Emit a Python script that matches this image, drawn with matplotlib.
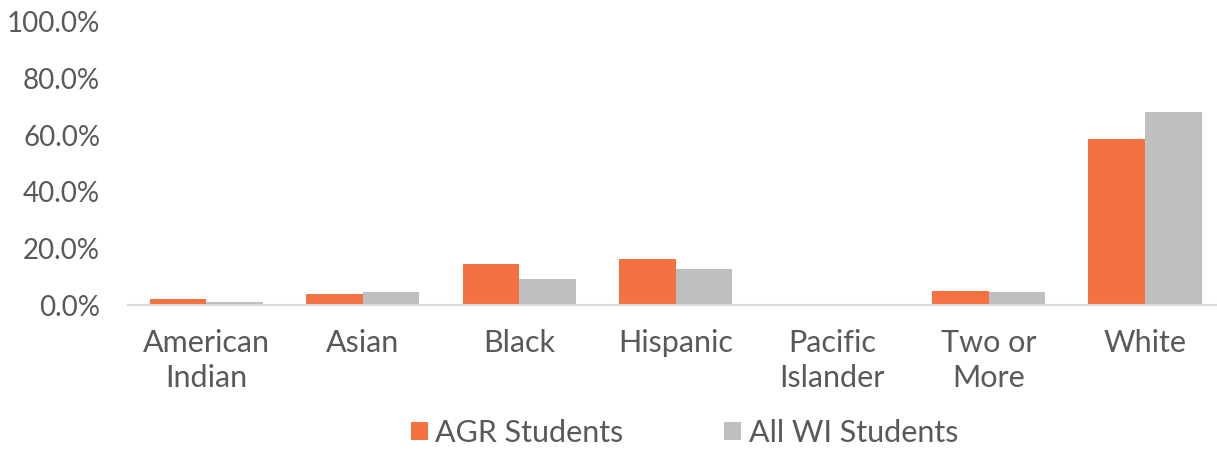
import matplotlib
matplotlib.use("Agg")
import matplotlib.pyplot as plt
from matplotlib.patches import Patch
import numpy as np

categories = ["American\nIndian", "Asian", "Black", "Hispanic", "Pacific\nIslander", "Two or\nMore", "White"]
agr_students = [2.0, 3.8, 14.5, 16.3, 0.0, 5.0, 58.7]
all_wi_students = [1.1, 4.5, 9.1, 12.8, 0.1, 4.7, 68.2]
series_names = ["AGR Students", "All WI Students"]

orange = "#F47142"
gray = "#BFBFBF"
text_color = "#595959"

plt.rcParams["font.family"] = ["Lato", "DejaVu Sans"]

fig = plt.figure(figsize=(12.17, 4.5), dpi=100)
ax = fig.add_axes([128 / 1217, 1 - 305 / 450, 1 - 128 / 1217, (305 - 22) / 450])

x = np.arange(len(categories))
w = 0.362
ax.bar(x - w / 2, agr_students, width=w, color=orange, zorder=2)
ax.bar(x + w / 2, all_wi_students, width=w, color=gray, zorder=2)

ax.set_xlim(-0.5, 6.46)
ax.set_ylim(0, 100)
ax.set_yticks(np.arange(0, 101, 20))
ax.set_yticklabels([f"{v:.1f}%" for v in np.arange(0, 101, 20)])
ax.set_xticks(x)
ax.set_xticklabels(categories, linespacing=1.32)

for side in ["top", "right", "left"]:
    ax.spines[side].set_visible(False)
ax.spines["bottom"].set_color("#D9D9D9")
ax.spines["bottom"].set_linewidth(1.5)
ax.spines["bottom"].set_zorder(3)

ax.tick_params(axis="both", length=0, colors=text_color)
ax.tick_params(axis="y", labelsize=20, pad=20)
ax.tick_params(axis="x", labelsize=22, pad=17)

handles = [Patch(facecolor=orange), Patch(facecolor=gray)]
fig.legend(handles, series_names, loc="center", bbox_to_anchor=(0.5625, 1 - 433 / 450),
           ncol=2, frameon=False, fontsize=22, labelcolor=text_color,
           handlelength=0.55, handleheight=0.55, handletextpad=0.25, columnspacing=3.3)

fig.savefig("out.png", dpi=100)
